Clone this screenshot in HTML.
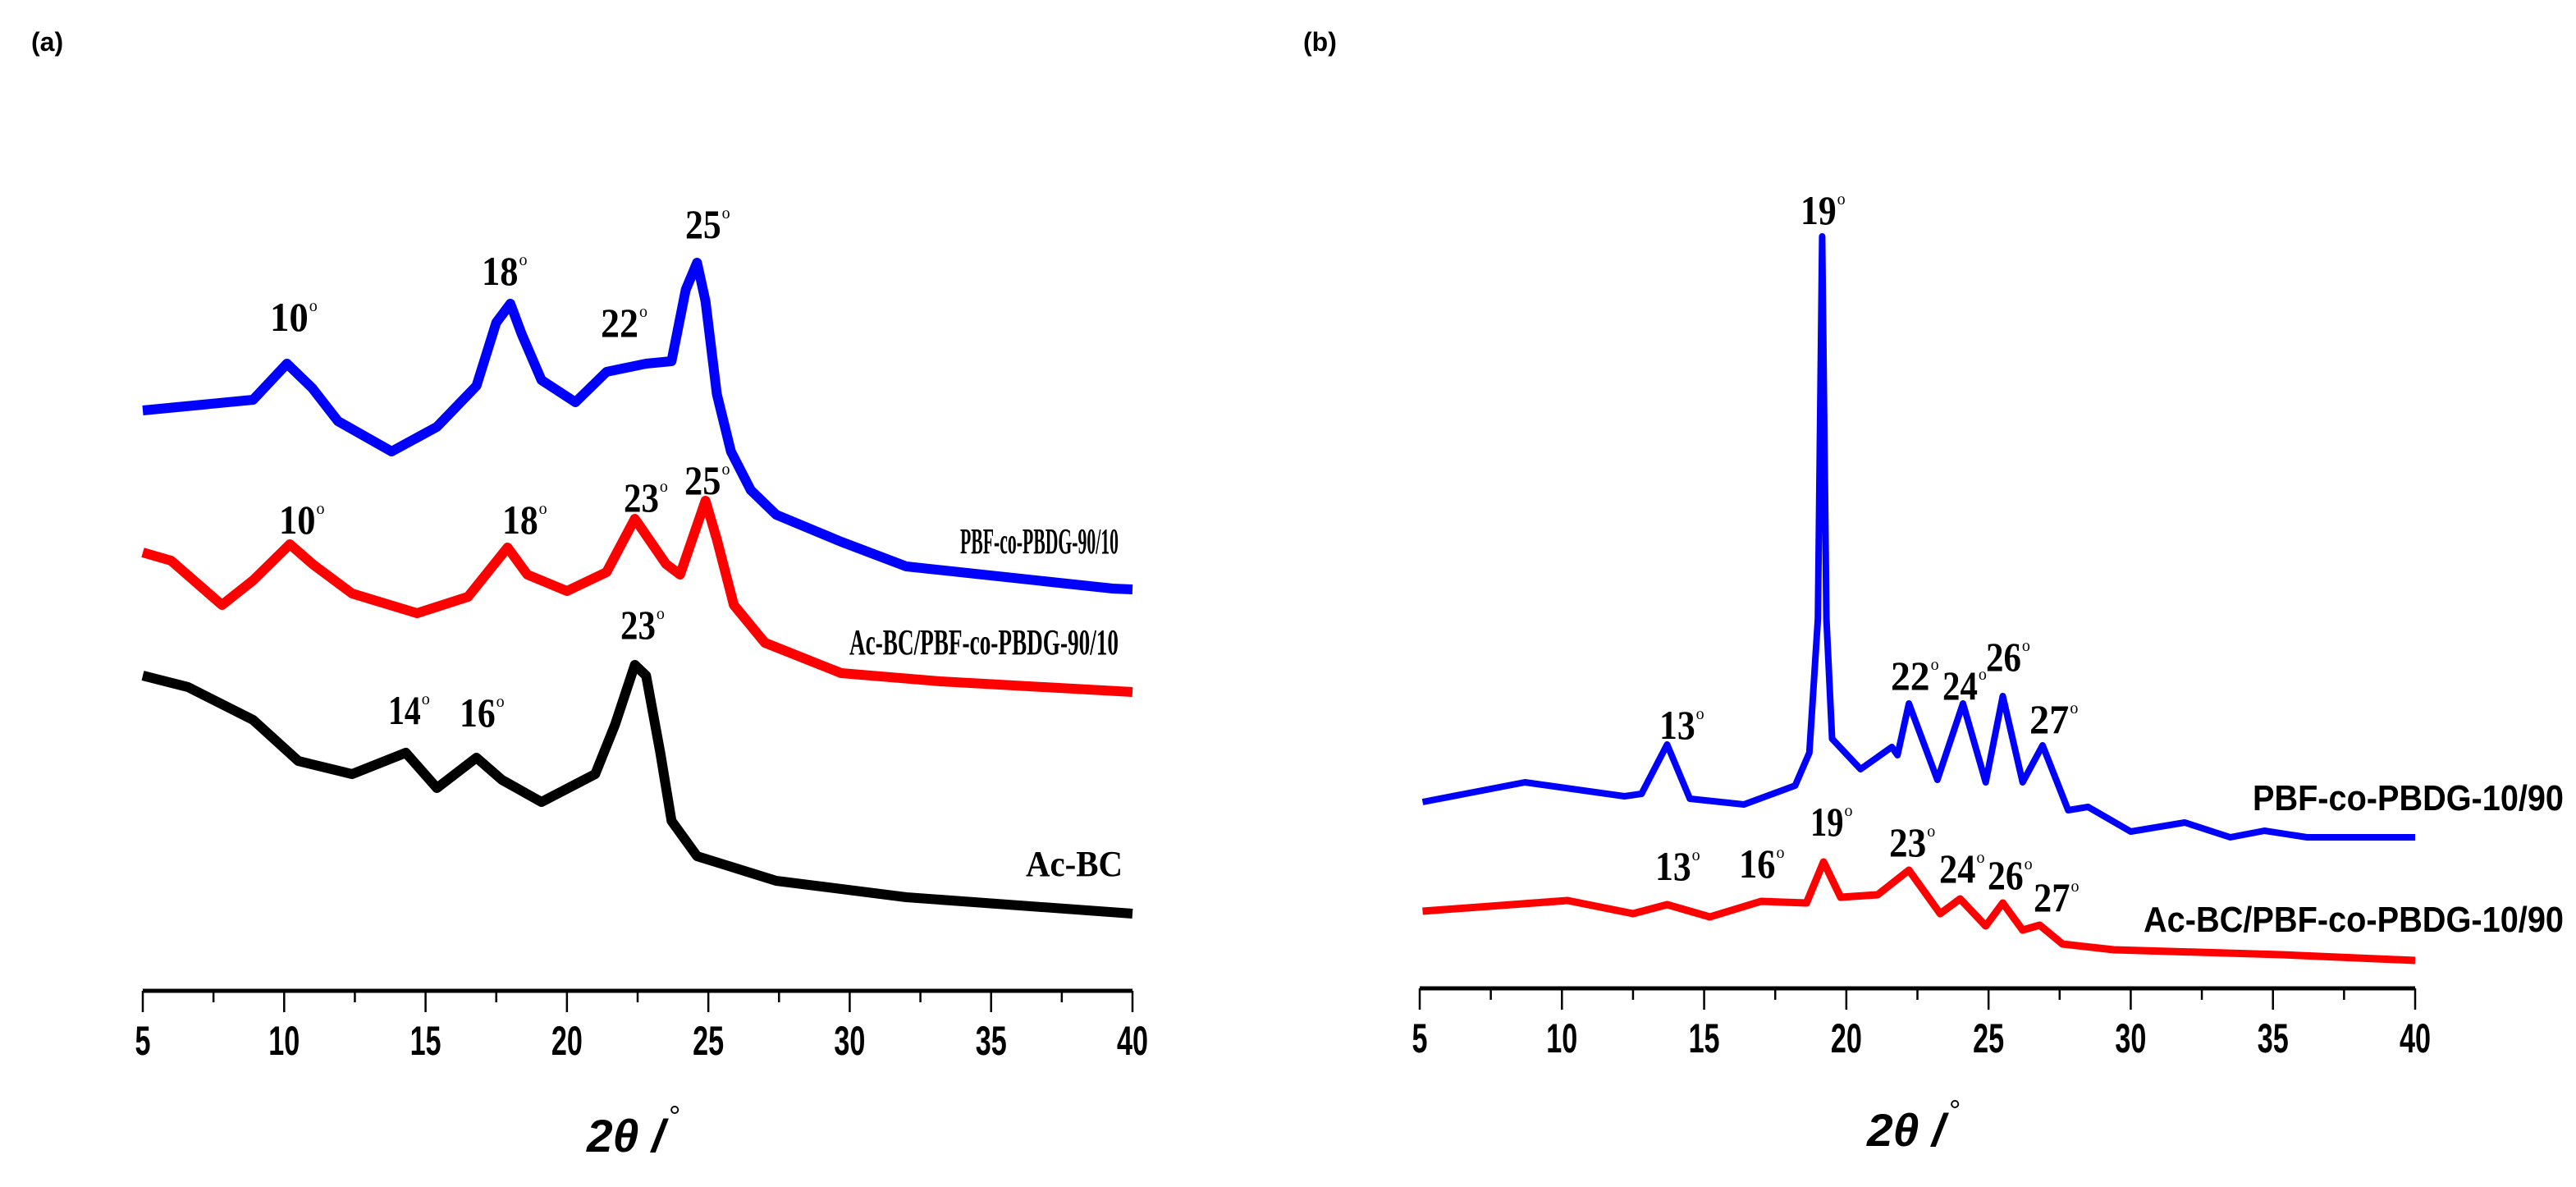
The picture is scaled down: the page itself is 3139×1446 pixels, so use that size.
<!DOCTYPE html>
<html><head><meta charset="utf-8"><style>
html,body{margin:0;padding:0;background:#fff;}
svg{display:block;}
</style></head><body>
<svg id="fig" width="3139" height="1446" viewBox="0 0 3139 1446" xmlns="http://www.w3.org/2000/svg">
<rect width="3139" height="1446" fill="#fff"/>
<text x="38" y="62" font-family="Liberation Sans, sans-serif" font-weight="bold" font-size="32">(a)</text>
<text x="1588" y="62" font-family="Liberation Sans, sans-serif" font-weight="bold" font-size="32">(b)</text>
<g id="ga"></g>
<g id="gb"></g>
<text x="715" y="1403" font-family="Liberation Sans, sans-serif" font-style="italic" font-weight="bold" font-size="56" textLength="95" lengthAdjust="spacingAndGlyphs">2θ /</text>
<text x="815" y="1372" font-family="Liberation Sans, sans-serif" font-size="36">°</text>
<text x="2275" y="1396" font-family="Liberation Sans, sans-serif" font-style="italic" font-weight="bold" font-size="56" textLength="95" lengthAdjust="spacingAndGlyphs">2θ /</text>
<text x="2375" y="1365" font-family="Liberation Sans, sans-serif" font-size="36">°</text>
<text x="1170" y="674" font-family="Liberation Serif, serif" font-weight="bold" font-size="44" textLength="193" lengthAdjust="spacingAndGlyphs">PBF-co-PBDG-90/10</text>
<text x="1035" y="797" font-family="Liberation Serif, serif" font-weight="bold" font-size="44" textLength="328" lengthAdjust="spacingAndGlyphs">Ac-BC/PBF-co-PBDG-90/10</text>
<text x="1250" y="1067" font-family="Liberation Serif, serif" font-weight="bold" font-size="44" textLength="118" lengthAdjust="spacingAndGlyphs">Ac-BC</text>
<text x="2745" y="987" font-family="Liberation Sans, sans-serif" font-weight="bold" font-size="44" textLength="379" lengthAdjust="spacingAndGlyphs">PBF-co-PBDG-10/90</text>
<text x="2612" y="1135" font-family="Liberation Sans, sans-serif" font-weight="bold" font-size="44" textLength="512" lengthAdjust="spacingAndGlyphs">Ac-BC/PBF-co-PBDG-10/90</text>
</svg>
<script>
// ---- Panel (a) data: 2theta (deg) and relative intensity (offset traces) ----
const aBlueX = [5.0,8.9,10.1,11.0,11.9,13.8,15.4,16.8,17.5,18.0,18.4,19.1,20.3,21.4,22.8,23.7,24.2,24.6,24.9,25.3,25.8,26.5,27.4,29.7,32.0,39.3,40];
const aBlueY = [707,720,764,734,694,657,687,737,814,837,800,744,717,754,764,767,854,887,840,727,657,610,580,547,517,490,489];
const aRedX = [5.0,6.0,7.8,8.9,10.2,11.0,12.4,14.7,16.5,17.9,18.6,20.0,21.4,22.4,23.5,24.0,24.9,25.3,25.9,27.0,29.7,33.2,40];
const aRedY = [534,524,470,500,544,520,484,460,480,540,507,487,510,575,520,507,597,550,470,424,387,377,364];
const aBlackX = [5,6.6,8.9,10.5,12.4,14.3,15.4,16.8,17.7,19.1,21.0,21.7,22.4,22.8,23.3,23.7,24.6,27.4,32.0,40];
const aBlackY = [384,370,330,280,264,290,247,284,257,230,264,324,397,384,290,207,164,134,114,94];
// ---- Panel (b) data ----
const bBlueX = [5.1,8.7,12.2,12.8,13.7,14.5,16.4,18.2,18.7,19.0,19.15,19.3,19.5,20.5,21.6,21.8,22.2,23.2,24.1,24.9,25.5,26.2,26.9,27.8,28.5,30.0,31.9,33.5,34.7,36.2,40];
const bBlueY = [227,251,234,237,297,231,224,247,287,450,916,450,304,267,294,284,347,254,347,251,356,251,296,217,221,191,202,184,192,184,184];
const bRedX = [5.1,10.2,12.5,13.7,15.2,17.0,18.6,19.2,19.8,21.1,22.2,23.3,24.0,24.9,25.5,26.2,26.8,27.6,29.4,35.3,40];
const bRedY = [94,107,91,102,87,106,104,154,111,114,144,91,109,76,104,71,77,54,47,41,34];
// ---- Axis ticks ----
const tickVals = [5,10,15,20,25,30,35,40];
const tickLabels = ["5","10","15","20","25","30","35","40"];
const minorVals = [7.5,12.5,17.5,22.5,27.5,32.5,37.5];
// ---- Peak annotations: [text, xLeft, xRight, baseline] ----
const aPeakLabels = [["10",329,389,403],["18",587,644,347],["22",732,791,410],["25",835,891,290],["10",340,397,650],["18",612,668,650],["23",760,815,623],["25",834,891,602],["23",756,811,778],["14",473,524,882],["16",560,616,885]];
const bPeakLabels = [["13",2022,2078,900],["19",2194,2250,273],["22",2304,2365,840],["24",2367,2422,852],["26",2420,2475,817],["27",2473,2535,893],["13",2017,2073,1072],["16",2119,2176,1069],["19",2206,2258,1018],["23",2302,2360,1043],["24",2363,2420,1075],["26",2422,2478,1083],["27",2478,2535,1110]];

const NS = "http://www.w3.org/2000/svg";
function mk(tag, attrs, parent){const e=document.createElementNS(NS,tag);for(const k in attrs)e.setAttribute(k,attrs[k]);parent.appendChild(e);return e;}
function makeAxes(x0,x1,yAxis){
  return {x:d=>x0+(d-5)*(x1-x0)/35, y:v=>yAxis-v, yAxis:yAxis, x0:x0, x1:x1};
}
const axA = makeAxes(174,1380,1207);
const axB = makeAxes(1730,2943,1204);

function drawAxis(g, ax, prefix){
  const line = mk("line",{x1:ax.x0,x2:ax.x1,y1:ax.yAxis,y2:ax.yAxis,stroke:"#000","stroke-width":5},g);
  
  
  tickVals.forEach((v,i)=>{
    const t = mk("line",{x1:ax.x(v),x2:ax.x(v),y1:ax.yAxis,y2:ax.yAxis+26,stroke:"#000","stroke-width":2.5},g);
    
    
    const lb = mk("text",{x:ax.x(v),y:ax.yAxis+78,"text-anchor":"middle","font-family":"Liberation Sans, sans-serif","font-weight":"bold","font-size":50,textLength:tickLabels[i].length*19,lengthAdjust:"spacingAndGlyphs"},g);
    lb.textContent = tickLabels[i];
    
    
  });
  minorVals.forEach(v=>{
    const t = mk("line",{x1:ax.x(v),x2:ax.x(v),y1:ax.yAxis,y2:ax.yAxis+14,stroke:"#000","stroke-width":2.5},g);
    
    
  });
}
function drawSeries(g, ax, xs, ys, color, width, name){
  const pts = xs.map((d,i)=>ax.x(d).toFixed(1)+","+ax.y(ys[i]).toFixed(1)).join(" ");
  const p = mk("polyline",{points:pts,fill:"none",stroke:color,"stroke-width":width,"stroke-linejoin":"round"},g);
  
  
}
function drawLabels(g, list, prefix){
  list.forEach(l=>{
    const w = (l[2]-l[1])*0.78;
    const t = mk("text",{x:l[1],y:l[3],"font-family":"Liberation Serif, serif","font-weight":"bold","font-size":50,textLength:w,lengthAdjust:"spacingAndGlyphs"},g);
    t.textContent = l[0];
    
    
    const o = mk("text",{x:l[1]+w+1,y:l[3]-24,"font-family":"Liberation Serif, serif","font-size":20},g);
    o.textContent = "o";
    
    
  });
}
const ga = document.getElementById("ga"), gb = document.getElementById("gb");
drawAxis(ga, axA, "panel-a");
drawAxis(gb, axB, "panel-b");
drawSeries(ga, axA, aBlueX, aBlueY, "#0000ff", 12, "series-pbf-co-pbdg-90-10");
drawSeries(ga, axA, aRedX, aRedY, "#ff0000", 12, "series-ac-bc-pbf-co-pbdg-90-10");
drawSeries(ga, axA, aBlackX, aBlackY, "#000000", 12, "series-ac-bc");
drawSeries(gb, axB, bBlueX, bBlueY, "#0000ff", 8, "series-pbf-co-pbdg-10-90");
drawSeries(gb, axB, bRedX, bRedY, "#ff0000", 9, "series-ac-bc-pbf-co-pbdg-10-90");
drawLabels(ga, aPeakLabels, "panel-a");
drawLabels(gb, bPeakLabels, "panel-b");
</script>
</body></html>
